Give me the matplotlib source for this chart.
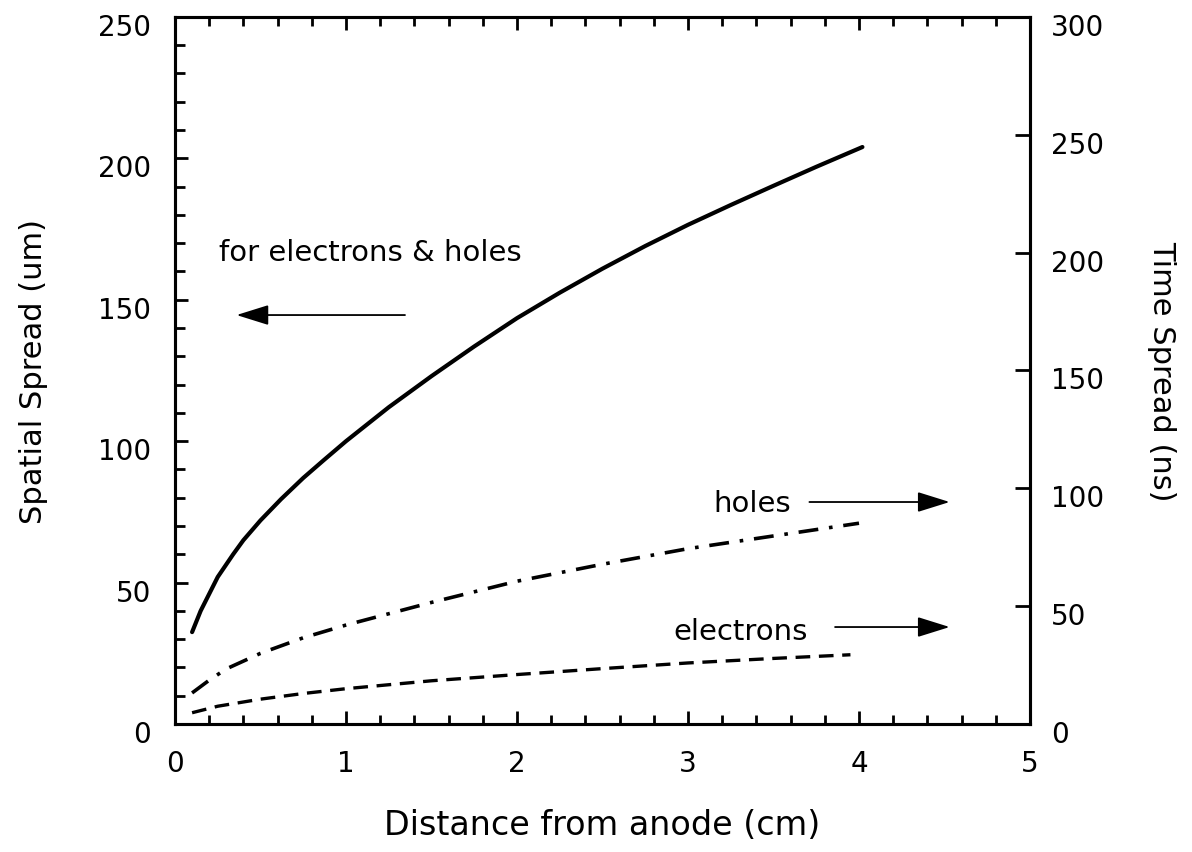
import matplotlib
matplotlib.use("Agg")
import matplotlib.pyplot as plt
from matplotlib.ticker import MultipleLocator
import matplotlib.transforms as mtransforms

# Data
solid_x = [0.1, 0.15, 0.2, 0.25, 0.34, 0.4, 0.5, 0.62, 0.75, 0.87, 1.0, 1.25, 1.5, 1.75, 2.0, 2.25, 2.5, 2.75, 3.0, 3.25, 3.5, 3.75, 4.02]
solid_y = [32.5, 40, 46, 52, 60, 65, 72, 79.5, 87, 93.3, 100, 112, 123, 133.5, 143.5, 152.5, 161, 169, 176.5, 183.5, 190.3, 197, 204]

holes_x = [0.1, 0.2, 0.3, 0.5, 0.75, 1.0, 1.5, 2.0, 2.5, 3.0, 3.5, 4.0]
holes_y = [11, 15.5, 19.5, 25, 30.5, 35, 43, 50.5, 56.5, 62, 66.5, 71]

electrons_x = [0.1, 0.25, 0.5, 0.75, 1.0, 1.5, 2.0, 2.5, 3.0, 3.5, 3.95]
electrons_y = [4, 6.3, 8.8, 10.8, 12.5, 15.3, 17.5, 19.6, 21.6, 23.2, 24.5]

x_ticks = [0, 1, 2, 3, 4, 5]
left_ticks = [0, 50, 100, 150, 200, 250]
right_ticks = [0, 50, 100, 150, 200, 250, 300]

plt.rcParams['font.family'] = ['DejaVu Sans']

fig = plt.figure(figsize=(11.92, 8.53), dpi=100)
ax = fig.add_axes([0.1468, 0.150, 0.7173, 0.829])
ax2 = ax.twinx()

ax.plot(solid_x, solid_y, color='black', lw=3.0, solid_capstyle='round')
ax.plot(holes_x, holes_y, color='black', lw=2.6, dashes=(5.5, 3.0, 1.0, 3.0))
ax.plot(electrons_x, electrons_y, color='black', lw=2.4, dashes=(4.4, 2.6))

ax.set_xlim(0, 5)
ax.set_ylim(0, 250)
ax2.set_ylim(0, 300)

ax.set_xticks(x_ticks)
ax.xaxis.set_minor_locator(MultipleLocator(0.2))
ax.set_yticks(left_ticks)
ax.yaxis.set_minor_locator(MultipleLocator(10))
ax2.set_yticks(right_ticks)

ax.tick_params(axis='x', which='both', direction='in', top=True, bottom=True,
               labelsize=20, pad=18, width=2)
ax.tick_params(axis='x', which='major', length=9.5)
ax.tick_params(axis='x', which='minor', length=6.5)
ax.tick_params(axis='y', which='both', direction='in', left=True, right=False,
               labelsize=20, pad=17, width=2)
ax.tick_params(axis='y', which='major', length=9)
ax.tick_params(axis='y', which='minor', length=7.5)
ax2.tick_params(axis='y', which='major', direction='in', length=11, width=2,
                labelsize=20, pad=15)
ax2.tick_params(axis='x', which='both', top=False, bottom=False)

for a in (ax, ax2):
    for s in a.spines.values():
        s.set_linewidth(2.2)

offset = mtransforms.ScaledTranslation(0, -5 / 72, fig.dpi_scale_trans)
for lab in ax.get_yticklabels() + ax2.get_yticklabels():
    lab.set_transform(lab.get_transform() + offset)

ax.set_xlabel('Distance from anode (cm)', fontsize=24, labelpad=22)
ax.set_ylabel('Spatial Spread (um)', fontsize=22, labelpad=36)
ax2.set_ylabel('Time Spread (ns)', fontsize=22, rotation=270, labelpad=52)

ax.text(0.26, 167, 'for electrons & holes', fontsize=21, ha='left', va='center')
ax.annotate('', xy=(0.36, 144.6), xytext=(1.345, 144.6),
            arrowprops=dict(arrowstyle='-|>,head_length=0.8,head_width=0.25',
                            mutation_scale=25, lw=1.3, color='black',
                            shrinkA=0, shrinkB=0))
ax.text(3.6, 78, 'holes', fontsize=21, ha='right', va='center')
ax.annotate('', xy=(4.53, 78.5), xytext=(3.71, 78.5),
            arrowprops=dict(arrowstyle='-|>,head_length=0.8,head_width=0.25',
                            mutation_scale=25, lw=1.3, color='black',
                            shrinkA=0, shrinkB=0))
ax.text(3.7, 33, 'electrons', fontsize=21, ha='right', va='center')
ax.annotate('', xy=(4.53, 34.3), xytext=(3.86, 34.3),
            arrowprops=dict(arrowstyle='-|>,head_length=0.8,head_width=0.25',
                            mutation_scale=25, lw=1.3, color='black',
                            shrinkA=0, shrinkB=0))

fig.savefig('out.png', dpi=100)
